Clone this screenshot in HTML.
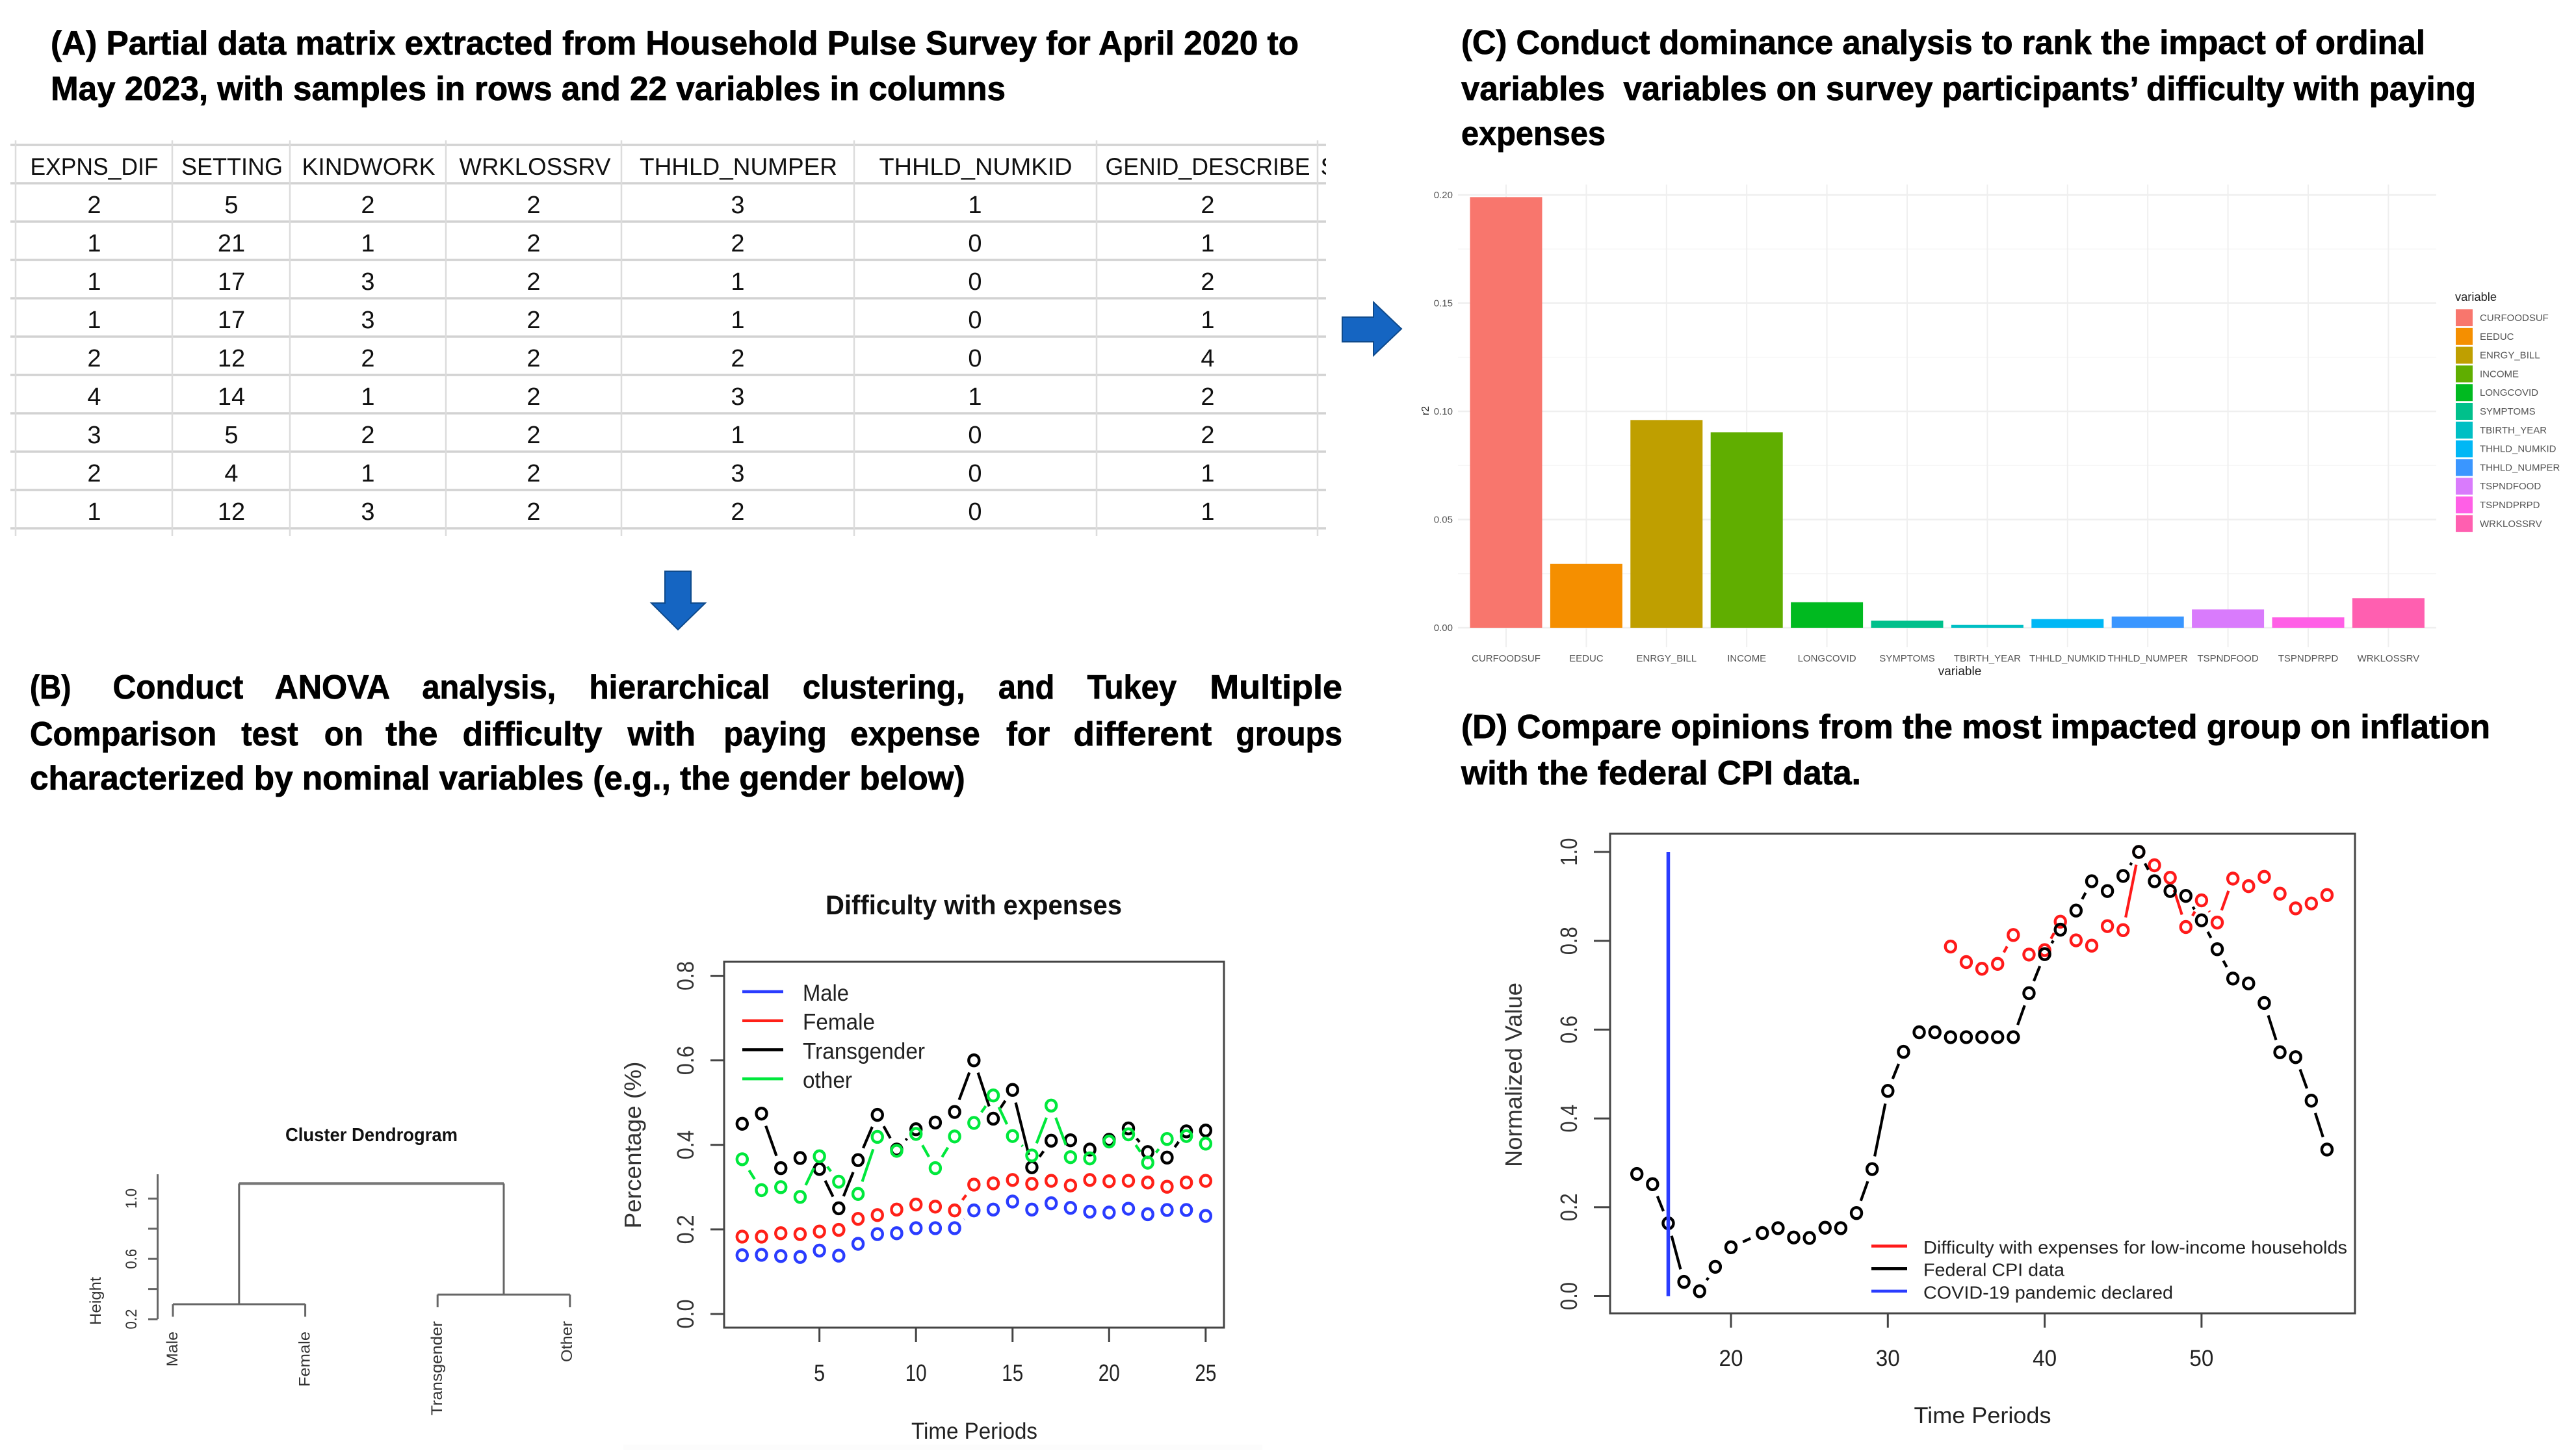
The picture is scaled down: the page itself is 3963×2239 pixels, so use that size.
<!DOCTYPE html>
<html lang="en">
<head>
<meta charset="utf-8">
<title>Household Pulse Survey analysis workflow</title>
<style>
html,body{margin:0;padding:0;background:#fff;}
body{width:3963px;height:2239px;overflow:hidden;}
svg{display:block;font-family:"Liberation Sans",sans-serif;}
.ttl{font-weight:700;font-size:52px;fill:#000;stroke:#000;stroke-width:0.8;}
.hdr{font-size:37px;fill:#111;text-anchor:middle;}
.cell{font-size:38px;fill:#111;text-anchor:middle;}
.gh{stroke:#d2d2d2;stroke-width:3.5;}
.gv{stroke:#dcdcdc;stroke-width:2.5;}
</style>
</head>
<body>
<svg id="figure" xmlns="http://www.w3.org/2000/svg" width="3963" height="2239" viewBox="0 0 3963 2239">
<defs><clipPath id="table-clip"><rect x="16" y="216" width="2024" height="610"/></clipPath></defs>
<rect width="3963" height="2239" fill="#fff"/>
<rect x="959" y="2223" width="983" height="8" fill="#fcfcfc"/>

<g>
<text class="ttl" x="78" y="84" textLength="1920" lengthAdjust="spacingAndGlyphs">(A) Partial data matrix extracted from Household Pulse Survey for April 2020 to</text>
<text class="ttl" x="78" y="154" textLength="1469" lengthAdjust="spacingAndGlyphs">May 2023, with samples in rows and 22 variables in columns</text>
</g>

<g>
<g>
<line class="gh" x1="16" x2="2040" y1="223" y2="223"/>
<line class="gh" x1="16" x2="2040" y1="282" y2="282"/>
<line class="gh" x1="16" x2="2040" y1="341" y2="341"/>
<line class="gh" x1="16" x2="2040" y1="400" y2="400"/>
<line class="gh" x1="16" x2="2040" y1="459" y2="459"/>
<line class="gh" x1="16" x2="2040" y1="518" y2="518"/>
<line class="gh" x1="16" x2="2040" y1="577" y2="577"/>
<line class="gh" x1="16" x2="2040" y1="636" y2="636"/>
<line class="gh" x1="16" x2="2040" y1="695" y2="695"/>
<line class="gh" x1="16" x2="2040" y1="754" y2="754"/>
<line class="gh" x1="16" x2="2040" y1="813" y2="813"/>
<line class="gv" x1="24" x2="24" y1="216" y2="825"/>
<line class="gv" x1="265" x2="265" y1="216" y2="825"/>
<line class="gv" x1="446" x2="446" y1="216" y2="825"/>
<line class="gv" x1="686" x2="686" y1="216" y2="825"/>
<line class="gv" x1="956" x2="956" y1="216" y2="825"/>
<line class="gv" x1="1314" x2="1314" y1="216" y2="825"/>
<line class="gv" x1="1687" x2="1687" y1="216" y2="825"/>
<line class="gv" x1="2027" x2="2027" y1="216" y2="825"/>
</g>
<g>
<text class="hdr" x="145" y="269" textLength="197" lengthAdjust="spacingAndGlyphs">EXPNS_DIF</text>
<text class="hdr" x="357" y="269" textLength="156" lengthAdjust="spacingAndGlyphs">SETTING</text>
<text class="hdr" x="567" y="269" textLength="205" lengthAdjust="spacingAndGlyphs">KINDWORK</text>
<text class="hdr" x="823" y="269" textLength="233" lengthAdjust="spacingAndGlyphs">WRKLOSSRV</text>
<text class="hdr" x="1136" y="269" textLength="304" lengthAdjust="spacingAndGlyphs">THHLD_NUMPER</text>
<text class="hdr" x="1501" y="269" textLength="297" lengthAdjust="spacingAndGlyphs">THHLD_NUMKID</text>
<text class="hdr" x="1858" y="269" textLength="315" lengthAdjust="spacingAndGlyphs">GENID_DESCRIBE</text>
<text class="hdr" x="2044" y="269" clip-path="url(#table-clip)">S</text>
</g>
<g>
<text class="cell" x="145" y="328">2</text><text class="cell" x="356" y="328">5</text><text class="cell" x="566" y="328">2</text><text class="cell" x="821" y="328">2</text><text class="cell" x="1135" y="328">3</text><text class="cell" x="1500" y="328">1</text><text class="cell" x="1858" y="328">2</text>
<text class="cell" x="145" y="387">1</text><text class="cell" x="356" y="387">21</text><text class="cell" x="566" y="387">1</text><text class="cell" x="821" y="387">2</text><text class="cell" x="1135" y="387">2</text><text class="cell" x="1500" y="387">0</text><text class="cell" x="1858" y="387">1</text>
<text class="cell" x="145" y="446">1</text><text class="cell" x="356" y="446">17</text><text class="cell" x="566" y="446">3</text><text class="cell" x="821" y="446">2</text><text class="cell" x="1135" y="446">1</text><text class="cell" x="1500" y="446">0</text><text class="cell" x="1858" y="446">2</text>
<text class="cell" x="145" y="505">1</text><text class="cell" x="356" y="505">17</text><text class="cell" x="566" y="505">3</text><text class="cell" x="821" y="505">2</text><text class="cell" x="1135" y="505">1</text><text class="cell" x="1500" y="505">0</text><text class="cell" x="1858" y="505">1</text>
<text class="cell" x="145" y="564">2</text><text class="cell" x="356" y="564">12</text><text class="cell" x="566" y="564">2</text><text class="cell" x="821" y="564">2</text><text class="cell" x="1135" y="564">2</text><text class="cell" x="1500" y="564">0</text><text class="cell" x="1858" y="564">4</text>
<text class="cell" x="145" y="623">4</text><text class="cell" x="356" y="623">14</text><text class="cell" x="566" y="623">1</text><text class="cell" x="821" y="623">2</text><text class="cell" x="1135" y="623">3</text><text class="cell" x="1500" y="623">1</text><text class="cell" x="1858" y="623">2</text>
<text class="cell" x="145" y="682">3</text><text class="cell" x="356" y="682">5</text><text class="cell" x="566" y="682">2</text><text class="cell" x="821" y="682">2</text><text class="cell" x="1135" y="682">1</text><text class="cell" x="1500" y="682">0</text><text class="cell" x="1858" y="682">2</text>
<text class="cell" x="145" y="741">2</text><text class="cell" x="356" y="741">4</text><text class="cell" x="566" y="741">1</text><text class="cell" x="821" y="741">2</text><text class="cell" x="1135" y="741">3</text><text class="cell" x="1500" y="741">0</text><text class="cell" x="1858" y="741">1</text>
<text class="cell" x="145" y="800">1</text><text class="cell" x="356" y="800">12</text><text class="cell" x="566" y="800">3</text><text class="cell" x="821" y="800">2</text><text class="cell" x="1135" y="800">2</text><text class="cell" x="1500" y="800">0</text><text class="cell" x="1858" y="800">1</text>
</g>
</g>

<polygon points="1023,879 1063,879 1063,928 1085,928 1043,969 1002,928 1023,928" fill="#1565c2" stroke="#0e4a8c" stroke-width="2"/>
<polygon points="2065,488 2113,488 2113,465 2156,506 2113,547 2113,526 2065,526" fill="#1565c2" stroke="#0e4a8c" stroke-width="2"/>

<g transform="translate(46 0) scale(1.004 1) translate(-51 0)">
<text class="ttl" x="51" y="1075" textLength="63" lengthAdjust="spacingAndGlyphs">(B)</text>
<text class="ttl" x="178" y="1075" textLength="200" lengthAdjust="spacingAndGlyphs">Conduct</text>
<text class="ttl" x="426" y="1075" textLength="177" lengthAdjust="spacingAndGlyphs">ANOVA</text>
<text class="ttl" x="652" y="1075" textLength="205" lengthAdjust="spacingAndGlyphs">analysis,</text>
<text class="ttl" x="908" y="1075" textLength="277" lengthAdjust="spacingAndGlyphs">hierarchical</text>
<text class="ttl" x="1235" y="1075" textLength="249" lengthAdjust="spacingAndGlyphs">clustering,</text>
<text class="ttl" x="1535" y="1075" textLength="86" lengthAdjust="spacingAndGlyphs">and</text>
<text class="ttl" x="1671" y="1075" textLength="137" lengthAdjust="spacingAndGlyphs">Tukey</text>
<text class="ttl" x="1859" y="1075" textLength="203" lengthAdjust="spacingAndGlyphs">Multiple</text>
<text class="ttl" x="51" y="1147" textLength="286" lengthAdjust="spacingAndGlyphs">Comparison</text>
<text class="ttl" x="375" y="1147" textLength="87" lengthAdjust="spacingAndGlyphs">test</text>
<text class="ttl" x="502" y="1147" textLength="60" lengthAdjust="spacingAndGlyphs">on</text>
<text class="ttl" x="596" y="1147" textLength="80" lengthAdjust="spacingAndGlyphs">the</text>
<text class="ttl" x="714" y="1147" textLength="214" lengthAdjust="spacingAndGlyphs">difficulty</text>
<text class="ttl" x="967" y="1147" textLength="104" lengthAdjust="spacingAndGlyphs">with</text>
<text class="ttl" x="1114" y="1147" textLength="158" lengthAdjust="spacingAndGlyphs">paying</text>
<text class="ttl" x="1308" y="1147" textLength="199" lengthAdjust="spacingAndGlyphs">expense</text>
<text class="ttl" x="1547" y="1147" textLength="67" lengthAdjust="spacingAndGlyphs">for</text>
<text class="ttl" x="1650" y="1147" textLength="212" lengthAdjust="spacingAndGlyphs">different</text>
<text class="ttl" x="1899" y="1147" textLength="163" lengthAdjust="spacingAndGlyphs">groups</text>
<text class="ttl" x="51" y="1215" textLength="1433" lengthAdjust="spacingAndGlyphs">characterized by nominal variables (e.g., the gender below)</text>
</g>

<g>
<text class="ttl" x="2248" y="83" textLength="1483" lengthAdjust="spacingAndGlyphs">(C) Conduct dominance analysis to rank the impact of ordinal</text>
<text class="ttl" x="2248" y="154" textLength="1561" lengthAdjust="spacingAndGlyphs" style="white-space:pre">variables  variables on survey participants’ difficulty with paying</text>
<text class="ttl" x="2248" y="223" textLength="222" lengthAdjust="spacingAndGlyphs">expenses</text>
</g>

<g>
<text class="ttl" x="2248" y="1136" textLength="1583" lengthAdjust="spacingAndGlyphs">(D) Compare opinions from the most impacted group on inflation</text>
<text class="ttl" x="2248" y="1207" textLength="615" lengthAdjust="spacingAndGlyphs">with the federal CPI data.</text>
</g>

<g id="bar-chart"></g>
<g id="dendrogram"></g>
<g id="gender-chart"></g>
<g id="cpi-chart"></g>
</svg>

<script>
/* ---------- Panel C data ---------- */
const cVariables = ['CURFOODSUF','EEDUC','ENRGY_BILL','INCOME','LONGCOVID','SYMPTOMS','TBIRTH_YEAR','THHLD_NUMKID','THHLD_NUMPER','TSPNDFOOD','TSPNDPRPD','WRKLOSSRV'];
const cR2 = [0.199,0.0295,0.096,0.0903,0.0118,0.0033,0.0013,0.004,0.0052,0.0085,0.0048,0.0137];
const cTicks = [0,0.05,0.1,0.15,0.2];
const cTickLabels = ['0.00','0.05','0.10','0.15','0.20'];
const cColors = ['#f8766d','#f58f00','#bf9f00','#60ae00','#00ba20','#00c08b','#00bfc4','#00b7f5','#3a96ff','#d97bfc','#ff5fe6','#ff5fb0'];

/* ---------- Panel B dendrogram data ---------- */
const dLeaves = ['Male','Female','Transgender','Other'];
const dLeafLabelLengths = [54,85,145,63];
const dMergeLeft = 0.299;
const dMergeRight = 0.363;
const dMergeRoot = 1.10;
const dTicks = [0.2,0.4,0.6,0.8,1.0];
const dTickLabels = ['0.2','','0.6','','1.0'];

/* ---------- Panel B line chart data ---------- */
const bPeriods = [1,2,3,4,5,6,7,8,9,10,11,12,13,14,15,16,17,18,19,20,21,22,23,24,25];
const bMale = [0.139,0.140,0.137,0.135,0.150,0.138,0.166,0.189,0.191,0.203,0.203,0.203,0.245,0.247,0.266,0.247,0.262,0.251,0.242,0.240,0.249,0.236,0.246,0.246,0.232];
const bFemale = [0.183,0.183,0.191,0.189,0.195,0.199,0.225,0.234,0.247,0.259,0.254,0.245,0.306,0.309,0.317,0.308,0.315,0.304,0.317,0.314,0.315,0.311,0.301,0.311,0.315];
const bTransgender = [0.450,0.474,0.345,0.369,0.343,0.250,0.364,0.471,0.389,0.437,0.453,0.478,0.600,0.462,0.530,0.347,0.410,0.411,0.389,0.412,0.439,0.383,0.370,0.432,0.434];
const bOther = [0.366,0.293,0.300,0.277,0.373,0.313,0.284,0.419,0.386,0.426,0.345,0.420,0.452,0.517,0.421,0.375,0.493,0.371,0.368,0.408,0.425,0.358,0.414,0.421,0.403];
const bXTicks = [5,10,15,20,25];
const bYTicks = [0,0.2,0.4,0.6,0.8];
const bYTickLabels = ['0.0','0.2','0.4','0.6','0.8'];
const bLegendLabels = ['Male','Female','Transgender','other'];
const bLegendLengths = [71,111,188,76];
const bLegendColors = ['#2a3cff','#ff2018','#000000','#00e83c'];

/* ---------- Panel D data ---------- */
const dCpiPeriods = [14,15,16,17,18,19,20,22,23,24,25,26,27,28,29,30,31,32,33,34,35,36,37,38,39,40,41,42,43,44,45,46,47,48,49,50,51,52,53,54,55,56,57,58];
const dCpiValues = [0.275,0.252,0.164,0.032,0.011,0.066,0.110,0.142,0.153,0.132,0.131,0.154,0.153,0.187,0.286,0.462,0.550,0.594,0.594,0.583,0.583,0.583,0.583,0.583,0.682,0.770,0.825,0.868,0.934,0.912,0.946,1.0,0.934,0.912,0.901,0.846,0.781,0.715,0.704,0.660,0.549,0.538,0.440,0.330];
const dDifficultyPeriods = [34,35,36,37,38,39,40,41,42,43,44,45,46,47,48,49,50,51,52,53,54,55,56,57,58];
const dDifficultyValues = [0.787,0.752,0.737,0.748,0.813,0.769,0.779,0.843,0.801,0.789,0.833,0.824,1.0,0.970,0.942,0.831,0.891,0.841,0.940,0.923,0.944,0.906,0.873,0.884,0.903];
const dPandemicPeriod = 16;
const dXTicks = [20,30,40,50];
const dYTicks = [0,0.2,0.4,0.6,0.8,1.0];
const dYTickLabels = ['0.0','0.2','0.4','0.6','0.8','1.0'];
const dLegendLabels = ['Difficulty with expenses for low-income households','Federal CPI data','COVID-19 pandemic declared'];
const dLegendLengths = [652,217,384];
const dLegendColors = ['#ff1a1a','#000000','#2a3cff'];

const NS = 'http://www.w3.org/2000/svg';
const GAP = 20;

function mk(tag, attrs, parent) {
  const el = document.createElementNS(NS, tag);
  for (const k in attrs) el.setAttribute(k, attrs[k]);
  parent.appendChild(el);
  return el;
}
function label(parent, txt, x, y, o, name) {
  const el = document.createElementNS(NS, 'text');
  el.setAttribute('x', x);
  el.setAttribute('y', y);
  el.setAttribute('font-size', o.size);
  el.setAttribute('fill', o.fill || '#222');
  el.setAttribute('text-anchor', o.anchor || 'middle');
  if (o.weight) el.setAttribute('font-weight', o.weight);
  if (o.len) { el.setAttribute('textLength', o.len); el.setAttribute('lengthAdjust', 'spacingAndGlyphs'); }
  if (o.rotate) el.setAttribute('transform', 'rotate(-90 ' + x + ' ' + y + ')');
  el.textContent = txt;
  
  
  parent.appendChild(el);
  return el;
}
function seg(parent, x1, y1, x2, y2, color, width, name) {
  const l = mk('line', {x1: x1, y1: y1, x2: x2, y2: y2, stroke: color, 'stroke-width': width}, parent);
  
  
  return l;
}
/* R type="b" series: open circles joined by lines with a gap around each point */
function drawSeries(parent, xs, ys, xf, yf, color, name) {
  for (let i = 0; i < xs.length - 1; i++) {
    const x1 = xf(xs[i]), y1 = yf(ys[i]), x2 = xf(xs[i + 1]), y2 = yf(ys[i + 1]);
    const d = Math.hypot(x2 - x1, y2 - y1);
    if (d > 2 * GAP) {
      const ux = (x2 - x1) / d, uy = (y2 - y1) / d;
      seg(parent, x1 + ux * GAP, y1 + uy * GAP, x2 - ux * GAP, y2 - uy * GAP, color, 4.2, name + '-line-segment');
    }
  }
  for (let i = 0; i < xs.length; i++) {
    const c = mk('ellipse', {cx: xf(xs[i]), cy: yf(ys[i]), rx: 8, ry: 8.5, fill: 'none', stroke: color, 'stroke-width': 4.4}, parent);
    
    
  }
}

/* ---------- Panel C: bar chart ---------- */
(function () {
  const g = document.getElementById('bar-chart');
  const cX = i => 2317 + i * 123.4;
  const cY = v => 966 - v * 3330;
  const left = 2243, right = 3748, top = 284, bottom = 996;
  for (let i = 0; i < cTicks.length - 1; i++) {
    const m = cY((cTicks[i] + cTicks[i + 1]) / 2);
    seg(g, left, m, right, m, '#f6f6f6', 1.5, 'y-minor-gridline');
  }
  cTicks.forEach((t, i) => {
    seg(g, left, cY(t), right, cY(t), '#efefef', 2.5, 'y-major-gridline');
    label(g, cTickLabels[i], 2235, cY(t) + 5, {size: 15, anchor: 'end', fill: '#555'}, 'y-tick-label');
  });
  cVariables.forEach((v, i) => {
    seg(g, cX(i), top, cX(i), bottom, '#efefef', 2, 'x-gridline');
  });
  cVariables.forEach((v, i) => {
    const r = mk('rect', {x: cX(i) - 55.5, y: cY(cR2[i]), width: 111, height: cY(0) - cY(cR2[i]), fill: cColors[i]}, g);
    
    
    label(g, v, cX(i), 1018, {size: 15, fill: '#555'}, 'x-tick-label');
  });
  label(g, 'variable', 3015, 1039, {size: 19, fill: '#222'}, 'x-axis-title');
  label(g, 'r2', 2198, 632, {size: 16, fill: '#222', rotate: true}, 'y-axis-title');
  label(g, 'variable', 3777, 463, {size: 18, anchor: 'start', len: 64}, 'legend-title');
  cVariables.forEach((v, i) => {
    const y = 476 + i * 28.8;
    const s = mk('rect', {x: 3778, y: y, width: 26, height: 26, fill: cColors[i]}, g);
    
    
    label(g, v, 3815, y + 18, {size: 15, anchor: 'start', fill: '#555'}, 'legend-entry');
  });
})();

/* ---------- Panel B: dendrogram ---------- */
(function () {
  const g = document.getElementById('dendrogram');
  const dX = i => 266 + i * 203.6;
  const dY = h => 2030 - (h - 0.2) * 232;
  const hang = 0.0825, col = '#666', w = 3;
  seg(g, 242.5, 1807, 242.5, dY(0.2), col, 3, 'y-axis-line');
  dTicks.forEach((t, i) => {
    seg(g, 228, dY(t), 242.5, dY(t), col, 3, 'y-tick');
    if (dTickLabels[i]) label(g, dTickLabels[i], 210, dY(t), {size: 24, len: 31, rotate: true, fill: '#333'}, 'y-tick-label');
  });
  const lm = (dX(0) + dX(1)) / 2, rm = (dX(2) + dX(3)) / 2;
  seg(g, dX(0), dY(dMergeLeft), dX(1), dY(dMergeLeft), col, w, 'merge-male-female');
  seg(g, dX(0), dY(dMergeLeft), dX(0), dY(dMergeLeft - hang), col, w, 'leaf-stem-male');
  seg(g, dX(1), dY(dMergeLeft), dX(1), dY(dMergeLeft - hang), col, w, 'leaf-stem-female');
  seg(g, dX(2), dY(dMergeRight), dX(3), dY(dMergeRight), col, w, 'merge-transgender-other');
  seg(g, dX(2), dY(dMergeRight), dX(2), dY(dMergeRight - hang), col, w, 'leaf-stem-transgender');
  seg(g, dX(3), dY(dMergeRight), dX(3), dY(dMergeRight - hang), col, w, 'leaf-stem-other');
  seg(g, lm, dY(dMergeRoot), rm, dY(dMergeRoot), '#777', 4, 'merge-root');
  seg(g, lm, dY(dMergeRoot), lm, dY(dMergeLeft), col, w, 'trunk-left');
  seg(g, rm, dY(dMergeRoot), rm, dY(dMergeRight), col, w, 'trunk-right');
  dLeaves.forEach((name, i) => {
    const topY = i < 2 ? 2049 : 2033;
    label(g, name, dX(i) + 7 - (i === 3 ? 4 : 0), topY, {size: 24, anchor: 'end', len: dLeafLabelLengths[i], rotate: true, fill: '#333'}, 'leaf-label');
  });
  label(g, 'Cluster Dendrogram', 571.5, 1756, {size: 29, weight: 700, len: 265, fill: '#111'}, 'chart-title');
  label(g, 'Height', 155, 2002, {size: 24, len: 74, rotate: true, fill: '#333'}, 'y-axis-title');
})();

/* ---------- Panel B: line chart ---------- */
(function () {
  const g = document.getElementById('gender-chart');
  const bX = p => 1141.8 + (p - 1) * 29.71;
  const bY = v => 2022 - v * 650.5;
  const box = mk('rect', {x: 1114, y: 1480, width: 769, height: 563, fill: 'none', stroke: '#444', 'stroke-width': 3}, g);
  
  
  bYTicks.forEach((t, i) => {
    seg(g, 1093, bY(t), 1114, bY(t), '#444', 3, 'y-tick');
    label(g, bYTickLabels[i], 1067, bY(t), {size: 36, len: 45, rotate: true, fill: '#333'}, 'y-tick-label');
  });
  bXTicks.forEach(t => {
    seg(g, bX(t), 2043, bX(t), 2065, '#444', 3, 'x-tick');
    label(g, String(t), bX(t), 2125, {size: 36, len: t < 10 ? 17 : 33, fill: '#222'}, 'x-tick-label');
  });
  drawSeries(g, bPeriods, bMale, bX, bY, bLegendColors[0], 'male');
  drawSeries(g, bPeriods, bFemale, bX, bY, bLegendColors[1], 'female');
  drawSeries(g, bPeriods, bTransgender, bX, bY, bLegendColors[2], 'transgender');
  drawSeries(g, bPeriods, bOther, bX, bY, bLegendColors[3], 'other');
  bLegendLabels.forEach((t, i) => {
    const y = 1526 + i * 44.7;
    seg(g, 1142, y, 1205, y, bLegendColors[i], 4.5, 'legend-line');
    label(g, t, 1235, y + 14, {size: 35, anchor: 'start', len: bLegendLengths[i], fill: '#222'}, 'legend-entry');
  });
  label(g, 'Difficulty with expenses', 1498, 1407, {size: 42, weight: 700, len: 456, fill: '#111'}, 'chart-title');
  label(g, 'Time Periods', 1499, 2214, {size: 35, len: 194, fill: '#222'}, 'x-axis-title');
  label(g, 'Percentage (%)', 986, 1762, {size: 36, len: 257, rotate: true, fill: '#333'}, 'y-axis-title');
})();

/* ---------- Panel D: CPI chart ---------- */
(function () {
  const g = document.getElementById('cpi-chart');
  const pX = p => 2663 + (p - 20) * 24.13;
  const pY = v => 1994.5 - v * 683.5;
  const box = mk('rect', {x: 2477, y: 1283, width: 1146, height: 738, fill: 'none', stroke: '#444', 'stroke-width': 3}, g);
  
  
  dYTicks.forEach((t, i) => {
    seg(g, 2452, pY(t), 2477, pY(t), '#444', 3, 'y-tick');
    label(g, dYTickLabels[i], 2426, pY(t), {size: 36, len: 43, rotate: true, fill: '#333'}, 'y-tick-label');
  });
  dXTicks.forEach(t => {
    seg(g, pX(t), 2021, pX(t), 2043, '#444', 3, 'x-tick');
    label(g, String(t), pX(t), 2102, {size: 35, len: 37, fill: '#222'}, 'x-tick-label');
  });
  drawSeries(g, dDifficultyPeriods, dDifficultyValues, pX, pY, dLegendColors[0], 'difficulty');
  drawSeries(g, dCpiPeriods, dCpiValues, pX, pY, dLegendColors[1], 'cpi');
  seg(g, pX(dPandemicPeriod), pY(0), pX(dPandemicPeriod), pY(1), dLegendColors[2], 5.5, 'pandemic-declared-line');
  dLegendLabels.forEach((t, i) => {
    const y = 1917.5 + i * 34.7;
    seg(g, 2879, y, 2934, y, dLegendColors[i], 4.5, 'legend-line');
    label(g, t, 2959, y + 11.5, {size: 28, anchor: 'start', len: dLegendLengths[i], fill: '#222'}, 'legend-entry');
  });
  label(g, 'Time Periods', 3050, 2190, {size: 35, len: 211, fill: '#222'}, 'x-axis-title');
  label(g, 'Normalized Value', 2341, 1654, {size: 36, len: 284, rotate: true, fill: '#333'}, 'y-axis-title');
})();
</script>
</body>
</html>
